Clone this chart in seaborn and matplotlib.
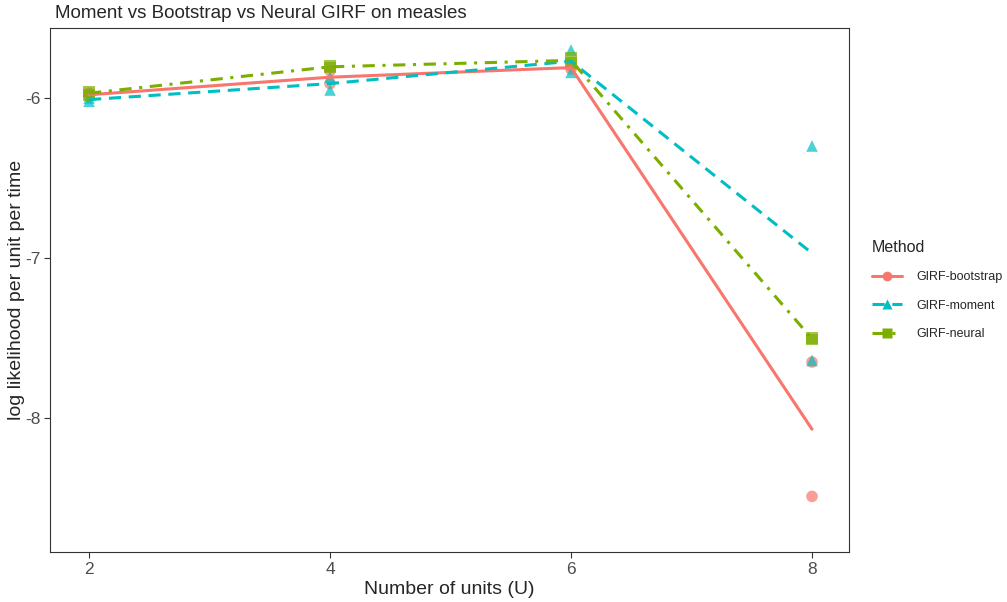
import pandas as pd
import numpy as np
import seaborn as sns
import matplotlib.pyplot as plt
from matplotlib.lines import Line2D

# replicate runs per unit count
units = [2, 2, 4, 4, 6, 6, 8, 8]
loglik_bootstrap = [-5.97, -5.99, -5.83, -5.91, -5.80, -5.82, -7.65, -8.49]
loglik_moment = [-6.00, -6.02, -5.87, -5.95, -5.70, -5.84, -6.30, -7.64]
loglik_neural = [-5.96, -5.98, -5.80, -5.81, -5.75, -5.78, -7.50, -7.51]
methods = ["GIRF-bootstrap", "GIRF-moment", "GIRF-neural"]

df = pd.concat([
    pd.DataFrame({"U": units, "loglik": loglik_bootstrap, "Method": methods[0]}),
    pd.DataFrame({"U": units, "loglik": loglik_moment, "Method": methods[1]}),
    pd.DataFrame({"U": units, "loglik": loglik_neural, "Method": methods[2]}),
])

palette = {"GIRF-bootstrap": "#F8766D", "GIRF-moment": "#00BFC4", "GIRF-neural": "#7CAE00"}
markers = {"GIRF-bootstrap": "o", "GIRF-moment": "^", "GIRF-neural": "s"}
dashes = {"GIRF-bootstrap": "", "GIRF-moment": (4, 2.5), "GIRF-neural": (4, 2.5, 1, 2.5)}

sns.set_style("white")
plt.rcParams['font.family'] = ['Liberation Sans', 'DejaVu Sans']

fig = plt.figure(figsize=(10.07, 6.02), dpi=100)
ax = fig.add_axes([50 / 1007, 1 - 552 / 602, 799 / 1007, 524 / 602])

sns.scatterplot(data=df, x="U", y="loglik", hue="Method", style="Method",
                palette=palette, markers=markers, s=70, alpha=0.7,
                edgecolor="none", ax=ax, legend=False, zorder=2)
sns.lineplot(data=df, x="U", y="loglik", hue="Method", style="Method",
             palette=palette, dashes=dashes, estimator="mean", errorbar=None,
             linewidth=2.2, ax=ax, legend=False, zorder=3)

ax.set_xlim(1.676, 8.307)
ax.set_ylim(-8.8375, -5.5625)
ax.set_xticks([2, 4, 6, 8])
ax.set_yticks([-6, -7, -8])
ax.set_yticklabels(["-6", "-7", "-8"])
ax.tick_params(axis="both", which="both", length=4, width=0.8, color="#333333",
               labelsize=12.5, labelcolor="#4d4d4d", left=True, bottom=True, pad=3)
for sp in ax.spines.values():
    sp.set_color("#333333")
    sp.set_linewidth(0.8)
ax.set_xlabel("Number of units (U)", fontsize=14, labelpad=3)
ax.set_ylabel("log likelihood per unit per time", fontsize=14)
ax.yaxis.set_label_coords(-0.031, 0.5)
ax.set_title("Moment vs Bootstrap vs Neural GIRF on measles", fontsize=13.5,
             loc="left", x=0.006, pad=7)

handles = []
for m in methods:
    d = dashes[m]
    h = Line2D([0], [0], color=palette[m], lw=2.2, marker=markers[m], markersize=7,
               markeredgecolor="none", label=m)
    if d:
        h.set_dashes(d)
    handles.append(h)
leg = ax.legend(handles=handles, title="Method", loc="center left",
                bbox_to_anchor=(1.015, 0.5), frameon=False, fontsize=9,
                title_fontsize=11.5, handlelength=2.4, handletextpad=1.1,
                labelspacing=1.3)
leg._legend_box.align = "left"

fig.savefig("out.png", dpi=100)
